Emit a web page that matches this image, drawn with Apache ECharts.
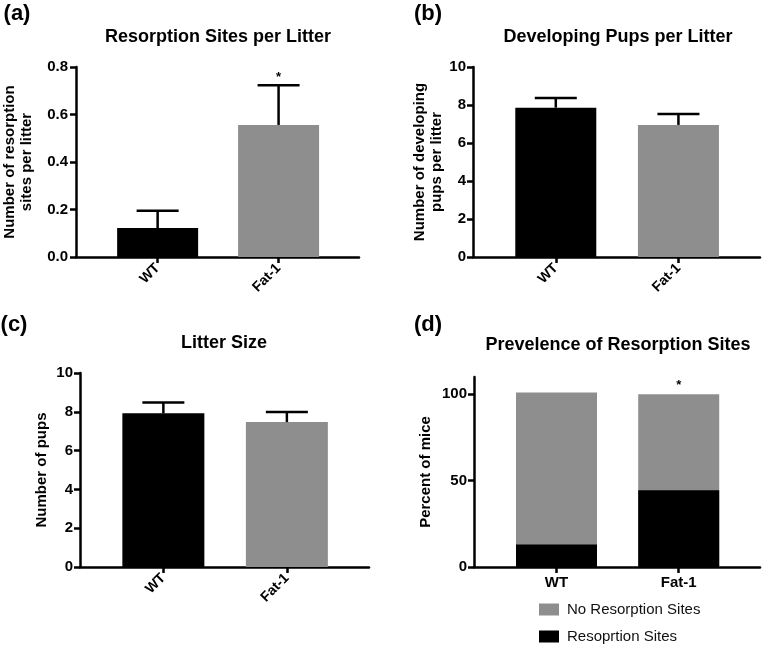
<!DOCTYPE html>
<html>
<head>
<meta charset="utf-8">
<script src="https://cdn.jsdelivr.net/npm/echarts@6/dist/echarts.min.js"></script>
<style>
  html, body { margin: 0; padding: 0; background: #fff; }
  #chart { width: 762px; height: 646px; }
</style>
</head>
<body>
<div id="chart"></div>
<script>
// groups and panel data
var groups = ['WT', 'Fat-1'];
var resorptionMean = [0.122, 0.556];
var resorptionErr = [0.073, 0.167];
var developingMean = [7.86, 6.95];
var developingErr = [0.51, 0.58];
var litterMean = [7.92, 7.47];
var litterErr = [0.56, 0.52];
var prevResorption = [13, 44.4];
var prevNoResorption = [88, 55.6];
var sigA = ['', '*'];
var sigD = ['', '*'];
var ticksD = [0, 50, 100];

(function() {
    var font = "'Liberation Sans', Arial, sans-serif";
    var ink = '#000';
    var gray = '#8e8e8e';
    var barColors = [ink, gray];

    var chart = echarts.init(document.getElementById('chart'), null, { renderer: 'canvas' });

    function pts(vals) {
        return vals.map(function(v, i) { return [i, v]; });
    }
    function barData(vals) {
        return vals.map(function(v, i) {
            return { value: [i, v], itemStyle: { color: barColors[i] } };
        });
    }
    function errData(means, errs) {
        return means.map(function(m, i) { return [i, m, errs[i]]; });
    }
    // whole stacked column for panel (d): resorption + no resorption
    var prevTotal = prevResorption.map(function(v, i) { return v + prevNoResorption[i]; });

    function errorItem(sig) {
        return function(params, api) {
            var x = api.value(0), v = api.value(1), e = api.value(2);
            var base = api.coord([x, v]);
            var top = api.coord([x, v + e]);
            var half = 21;
            var kids = [
                { type: 'line', shape: { x1: base[0], y1: base[1], x2: top[0], y2: top[1] },
                  style: { stroke: ink, lineWidth: 2.5 } },
                { type: 'line', shape: { x1: top[0] - half, y1: top[1], x2: top[0] + half, y2: top[1] },
                  style: { stroke: ink, lineWidth: 2.5 } }
            ];
            if (sig && sig[params.dataIndex]) {
                kids.push({ type: 'text', x: top[0], y: top[1] - 8,
                    style: { text: sig[params.dataIndex], fill: ink, font: 'bold 13px ' + font,
                             align: 'center', verticalAlign: 'middle' } });
            }
            return { type: 'group', children: kids };
        };
    }

    function xAxisFor(idx, rotate, size) {
        return {
            type: 'value', gridIndex: idx, min: -0.675, max: 1.665,
            splitLine: { show: false },
            axisLine: { show: true, onZero: false, lineStyle: { color: ink, width: 2.5 } },
            axisTick: { show: true, customValues: [0, 1], length: 6, lineStyle: { color: ink, width: 2.5 } },
            axisLabel: {
                customValues: [0, 1], rotate: rotate, margin: rotate ? 9 : 8,
                color: ink, fontWeight: 'bold', fontSize: size, fontFamily: font,
                formatter: function(v) { return groups[Math.round(v)]; }
            }
        };
    }

    function yAxisFor(idx, opts) {
        var ax = {
            type: 'value', gridIndex: idx, min: opts.min, max: opts.max,
            name: opts.name, nameLocation: 'middle', nameRotate: 90, nameGap: opts.nameGap,
            nameTextStyle: { color: ink, fontWeight: 'bold', fontSize: 15, fontFamily: font, lineHeight: 17 },
            splitLine: { show: false },
            axisLine: { show: true, onZero: false, lineStyle: { color: ink, width: 2.5 } },
            axisTick: { show: true, length: 6, lineStyle: { color: ink, width: 2.5 } },
            axisLabel: { color: ink, fontWeight: 'bold', fontSize: 15, fontFamily: font, margin: opts.margin || 7 }
        };
        if (opts.interval) ax.interval = opts.interval;
        if (opts.custom) {
            ax.axisTick.customValues = opts.custom;
            ax.axisLabel.customValues = opts.custom;
        }
        if (opts.formatter) ax.axisLabel.formatter = opts.formatter;
        return ax;
    }

    function heading(text, x, y, size) {
        return { type: 'text', x: x, y: y,
            style: { text: text, fill: ink, font: 'bold ' + size + 'px ' + font,
                     align: 'center', verticalAlign: 'middle' } };
    }

    var option = {
        backgroundColor: '#fff',
        animation: false,
        graphic: [
            heading('(a)', 17, 14, 22),
            heading('(b)', 428, 14, 22),
            heading('(c)', 14, 325, 22),
            heading('(d)', 428, 325, 22),
            heading('Resorption Sites per Litter', 218, 37, 18),
            heading('Developing Pups per Litter', 618, 37, 18),
            heading('Litter Size', 224, 343, 18),
            heading('Prevelence of Resorption Sites', 618, 345, 18)
        ],
        grid: [
            { left: 73, top: 67, width: 286, height: 190 },
            { left: 473, top: 67, width: 287, height: 190 },
            { left: 80, top: 373, width: 289, height: 194 },
            { left: 474, top: 377, width: 286, height: 190 }
        ],
        legend: {
            data: ['No Resorption Sites', 'Resoprtion Sites'],
            orient: 'vertical', left: 539, top: 602, padding: 0,
            itemWidth: 20, itemHeight: 12, itemGap: 12, icon: 'rect',
            textStyle: { color: '#111', fontSize: 15, fontFamily: font, padding: [0, 0, 0, 3] }
        },
        xAxis: [
            xAxisFor(0, 45, 14),
            xAxisFor(1, 45, 14),
            xAxisFor(2, 45, 14),
            xAxisFor(3, 0, 15)
        ],
        yAxis: [
            yAxisFor(0, { min: 0, max: 0.8, interval: 0.2, name: 'Number of resorption\nsites per litter', nameGap: 41,
                          margin: 8, formatter: function(v) { return v.toFixed(1); } }),
            yAxisFor(1, { min: 0, max: 10, interval: 2, name: 'Number of developing\npups per litter', nameGap: 25 }),
            yAxisFor(2, { min: 0, max: 10, interval: 2, name: 'Number of pups', nameGap: 30 }),
            yAxisFor(3, { min: 0, max: 110, custom: ticksD, name: 'Percent of mice', nameGap: 40 })
        ],
        series: [
            { name: 'a', type: 'bar', xAxisIndex: 0, yAxisIndex: 0, barWidth: 81, data: barData(resorptionMean) },
            { name: 'aErr', type: 'custom', xAxisIndex: 0, yAxisIndex: 0, z: 3,
              renderItem: errorItem(sigA), data: errData(resorptionMean, resorptionErr) },
            { name: 'b', type: 'bar', xAxisIndex: 1, yAxisIndex: 1, barWidth: 81, data: barData(developingMean) },
            { name: 'bErr', type: 'custom', xAxisIndex: 1, yAxisIndex: 1, z: 3,
              renderItem: errorItem(null), data: errData(developingMean, developingErr) },
            { name: 'c', type: 'bar', xAxisIndex: 2, yAxisIndex: 2, barWidth: 82, data: barData(litterMean) },
            { name: 'cErr', type: 'custom', xAxisIndex: 2, yAxisIndex: 2, z: 3,
              renderItem: errorItem(null), data: errData(litterMean, litterErr) },
            { name: 'No Resorption Sites', type: 'bar', xAxisIndex: 3, yAxisIndex: 3, barWidth: 81,
              itemStyle: { color: gray }, data: pts(prevTotal),
              label: { show: true, position: 'top', distance: 2, color: ink, fontWeight: 'bold', fontSize: 13,
                       fontFamily: font, formatter: function(p) { return sigD[p.dataIndex]; } } },
            { name: 'Resoprtion Sites', type: 'bar', xAxisIndex: 3, yAxisIndex: 3, barWidth: 81, barGap: '-100%',
              z: 3, itemStyle: { color: ink }, data: pts(prevResorption) }
        ]
    };

    chart.setOption(option);
    window.addEventListener('resize', function() {
        chart.resize();
    });
})();
</script>
</body>
</html>
